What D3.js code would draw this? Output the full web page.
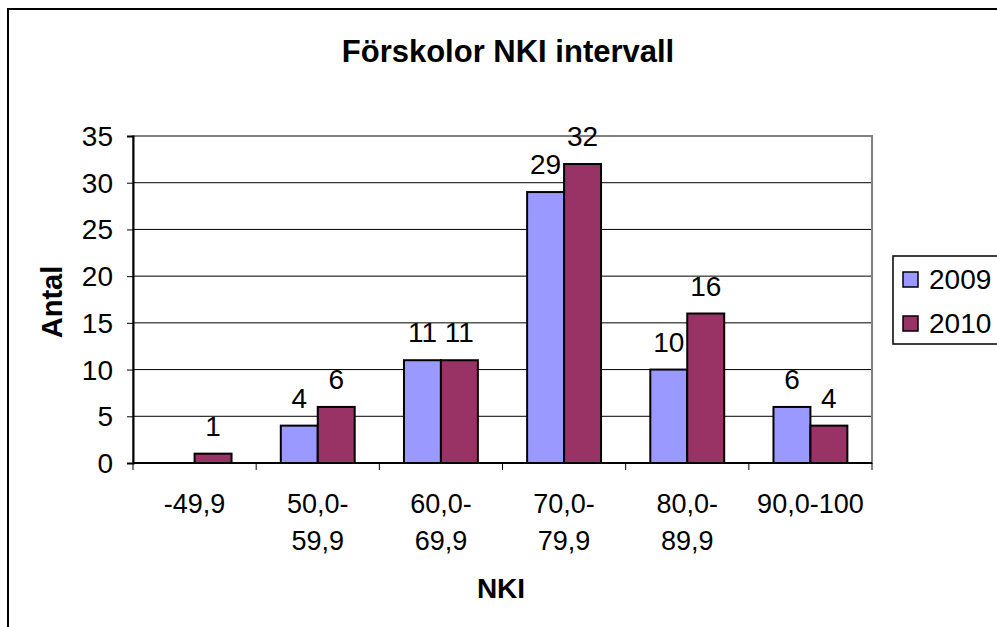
<!DOCTYPE html>
<html><head><meta charset="utf-8">
<script src="https://cdn.jsdelivr.net/npm/d3@7"></script>
<style>
html,body{margin:0;padding:0;background:#fff;}
text{font-family:"Liberation Sans",Arial,sans-serif;fill:#000;}
</style></head>
<body>
<script>
const categories = [["-49,9"],["50,0-","59,9"],["60,0-","69,9"],["70,0-","79,9"],["80,0-","89,9"],["90,0-100"]];
const seriesNames = ["2009","2010"];
const values2009 = [null,4,11,29,10,6];
const values2010 = [1,6,11,32,16,4];
const colors = ["#9999FF","#993366"];
const yTicks = [0,5,10,15,20,25,30,35];
const title = "Förskolor NKI intervall";
const yTitle = "Antal";
const xTitle = "NKI";

(function(){
const W = 997, H = 627;
const svg = d3.select("body").append("svg").attr("width",W).attr("height",H);

svg.append("rect").attr("x",8).attr("y",9).attr("width",1100).attr("height",700)
  .attr("fill","#fff").attr("stroke","#000").attr("stroke-width",2);

const pLeft = 133, pRight = 872, pTop = 136, pBottom = 463;
const x0 = d3.scaleBand().domain(d3.range(categories.length)).range([pLeft,pRight]).padding(0);
const bw = x0.bandwidth();
const x1 = d3.scaleBand().domain([0,1]).range([bw*0.2, bw*0.8]).padding(0);
const y = d3.scaleLinear().domain([0,35]).range([pBottom,pTop]);

// gridlines
svg.append("g").selectAll("line").data(yTicks.filter(t=>t>0 && t<35)).join("line")
  .attr("x1",pLeft).attr("x2",pRight).attr("y1",d=>y(d)).attr("y2",d=>y(d))
  .attr("stroke","#000").attr("stroke-width",1);
// plot area border
svg.append("rect").attr("x",pLeft).attr("y",y(35)).attr("width",pRight-pLeft).attr("height",pBottom-y(35))
  .attr("fill","none").attr("stroke","#808080").attr("stroke-width",2);

// y axis
const yAxis = svg.append("g").attr("transform",`translate(${pLeft},0)`)
  .call(d3.axisLeft(y).tickValues(yTicks).tickSize(6).tickPadding(14));
yAxis.select(".domain").attr("stroke","#000").attr("stroke-width",2);
yAxis.selectAll(".tick line").attr("stroke","#000");
yAxis.selectAll(".tick text").attr("font-size",28).attr("font-family","Liberation Sans, Arial").attr("fill","#000").attr("dy","0.34em");

// x axis
svg.append("line").attr("x1",pLeft).attr("x2",pRight).attr("y1",pBottom).attr("y2",pBottom)
  .attr("stroke","#000").attr("stroke-width",2);
const bounds = d3.range(categories.length+1).map(i => i<categories.length ? x0(i) : x0(i-1)+bw);
svg.append("g").selectAll("line").data(bounds).join("line")
  .attr("x1",d=>d).attr("x2",d=>d).attr("y1",pBottom).attr("y2",pBottom+7)
  .attr("stroke","#000").attr("stroke-width",1);

const cl = svg.append("g").selectAll("text").data(categories).join("text")
  .attr("text-anchor","middle").attr("font-size",27)
  .attr("transform",(d,i)=>`translate(${x0(i)+bw/2},513)`);
cl.selectAll("tspan").data(d=>d).join("tspan").attr("x",0).attr("y",(d,j)=>j*37).text(d=>d);

// bars
const series = [values2009, values2010];
series.forEach((vals,s)=>{
  const g = svg.append("g");
  const data = vals.map((v,i)=>({v,i})).filter(d=>d.v!==null);
  g.selectAll("rect").data(data).join("rect")
    .attr("x",d=>x0(d.i)+x1(s)).attr("width",x1.bandwidth())
    .attr("y",d=>y(d.v)).attr("height",d=>y(0)-y(d.v))
    .attr("fill",colors[s]).attr("stroke","#000").attr("stroke-width",2);
  g.selectAll("text").data(data).join("text")
    .attr("x",d=>x0(d.i)+x1(s)+x1.bandwidth()/2).attr("y",d=>y(d.v)-18)
    .attr("text-anchor","middle").attr("font-size",28).text(d=>d.v);
});

// titles
svg.append("text").attr("x",508).attr("y",62).attr("text-anchor","middle")
  .attr("font-size",31).attr("font-weight","bold").text(title);
svg.append("text").attr("transform","translate(62,302) rotate(-90)").attr("text-anchor","middle")
  .attr("font-size",29).attr("font-weight","bold").text(yTitle);
svg.append("text").attr("x",501).attr("y",598).attr("text-anchor","middle")
  .attr("font-size",28).attr("font-weight","bold").text(xTitle);

// legend
const lg = svg.append("g");
lg.append("rect").attr("x",893).attr("y",256).attr("width",200).attr("height",88)
  .attr("fill","#fff").attr("stroke","#000").attr("stroke-width",1.5);
seriesNames.forEach((n,i)=>{
  lg.append("rect").attr("x",903).attr("y",272+i*44).attr("width",15).attr("height",15)
    .attr("fill",colors[i]).attr("stroke","#000").attr("stroke-width",1.5);
  lg.append("text").attr("x",929).attr("y",289+i*44).attr("font-size",28).text(n);
});
})();
</script>
</body></html>
